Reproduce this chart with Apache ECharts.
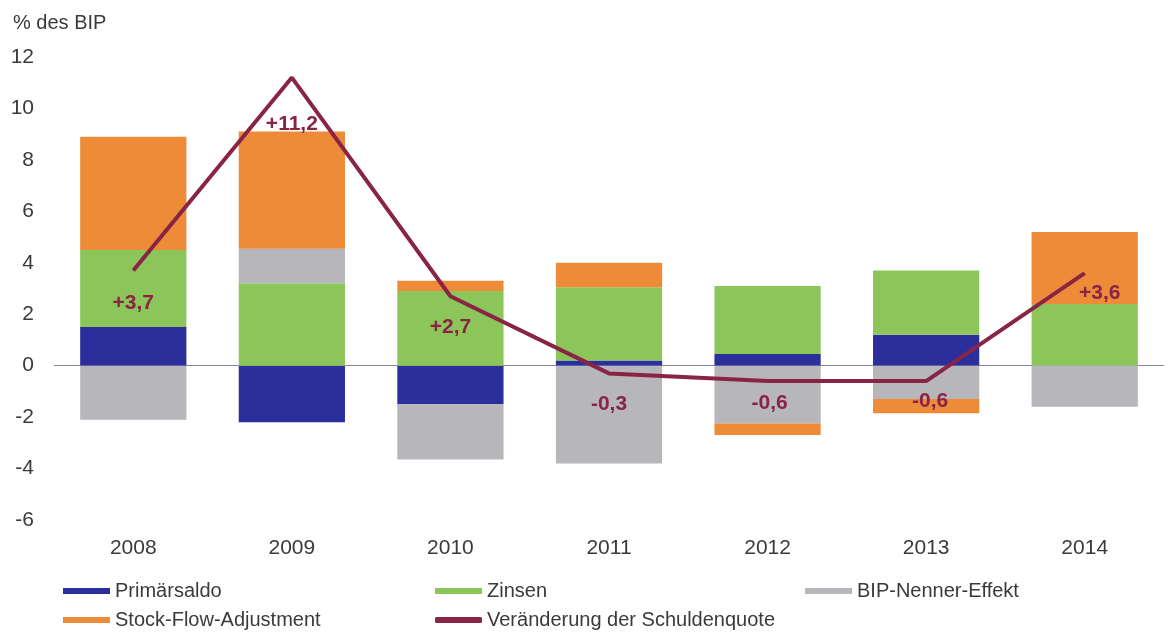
<!DOCTYPE html>
<html>
<head>
<meta charset="utf-8">
<script src="https://cdn.jsdelivr.net/npm/echarts@6/dist/echarts.min.js"></script>
<style>
  html, body { margin: 0; padding: 0; background: #fff; }
  #chart { width: 1168px; height: 638px; }
</style>
</head>
<body>
<div id="chart"></div>
<script>
var years = ['2008', '2009', '2010', '2011', '2012', '2013', '2014'];
var primaersaldo = [1.5, -2.2, -1.5, 0.2, 0.45, 1.2, 0];
var zinsen = [3.0, 3.2, 2.9, 2.85, 2.65, 2.5, 2.4];
var bipNenner = [-2.1, 1.35, -2.15, -3.8, -2.25, -1.3, -1.6];
var stockFlow = [4.4, 4.55, 0.4, 0.95, -0.45, -0.55, 2.8];
var schuldenquote = [3.7, 11.2, 2.7, -0.3, -0.6, -0.6, 3.6];
var yTicks = { min: -6, max: 12, step: 2 };

// label placement below each line point
var labelShift = [[0, 22], [0, 36], [0, 20], [0, 20], [2, 12], [4, 10], [15, 10]];

var fontFam = 'Liberation Sans, Arial, sans-serif';
var textCol = '#3a3a3a';
var lineCol = '#8a2445';

function barSeries(name, data, color) {
    return {
        name: name,
        type: 'bar',
        stack: 'total',
        data: data,
        barCategoryGap: '33%',
        itemStyle: { color: color },
        emphasis: { disabled: true }
    };
}

function legendCol(left, items) {
    return {
        orient: 'vertical',
        left: left,
        top: 581,
        padding: 0,
        itemWidth: 47,
        itemHeight: 6,
        itemGap: 9,
        textStyle: { fontSize: 20, color: textCol },
        data: items
    };
}

var lineData = schuldenquote.map(function (v, i) {
    return {
        value: v,
        label: { offset: [labelShift[i][0], labelShift[i][1]] }
    };
});

var myChart = echarts.init(document.getElementById('chart'));
var option = {
    animation: false,
    textStyle: { fontFamily: fontFam },
    title: {
        text: '% des BIP',
        left: 8,
        top: 8,
        textStyle: { fontSize: 20, fontWeight: 'normal', color: textCol, fontFamily: fontFam }
    },
    grid: { left: 54, right: 4, top: 57, bottom: 118 },
    legend: [
        legendCol(63, [{ name: 'Primärsaldo', icon: 'rect' }, { name: 'Stock-Flow-Adjustment', icon: 'rect' }]),
        legendCol(435, [{ name: 'Zinsen', icon: 'rect' }, { name: 'Veränderung der Schuldenquote', icon: 'roundRect' }]),
        legendCol(805, [{ name: 'BIP-Nenner-Effekt', icon: 'rect' }])
    ],
    xAxis: {
        type: 'category',
        data: years,
        axisLine: { show: false },
        axisTick: { show: false },
        axisLabel: { fontSize: 21, color: textCol, margin: 18 }
    },
    yAxis: {
        type: 'value',
        min: yTicks.min,
        max: yTicks.max,
        interval: yTicks.step,
        splitLine: { show: false },
        axisLine: { show: false },
        axisTick: { show: false },
        axisLabel: { fontSize: 21, color: textCol, margin: 20 }
    },
    series: [
        barSeries('Primärsaldo', primaersaldo, '#2b2f9c'),
        barSeries('Zinsen', zinsen, '#8cc55a'),
        barSeries('BIP-Nenner-Effekt', bipNenner, '#b6b6bb'),
        barSeries('Stock-Flow-Adjustment', stockFlow, '#ee8b38'),
        {
            name: 'Veränderung der Schuldenquote',
            type: 'line',
            data: lineData,
            symbol: 'circle',
            symbolSize: 0.1,
            showSymbol: true,
            z: 5,
            lineStyle: { color: lineCol, width: 4 },
            itemStyle: { color: lineCol },
            emphasis: { disabled: true },
            label: {
                show: true,
                position: 'bottom',
                distance: 0,
                fontSize: 21,
                fontWeight: 'bold',
                color: lineCol,
                formatter: function (p) {
                    var v = p.value;
                    return (v > 0 ? '+' : '') + v.toFixed(1).replace('.', ',');
                }
            },
            markLine: {
                silent: true,
                symbol: 'none',
                label: { show: false },
                lineStyle: { color: '#7f86a6', width: 1, type: 'solid' },
                data: [{ yAxis: 0 }],
                z: 1
            }
        }
    ]
};
myChart.setOption(option);
</script>
</body>
</html>
